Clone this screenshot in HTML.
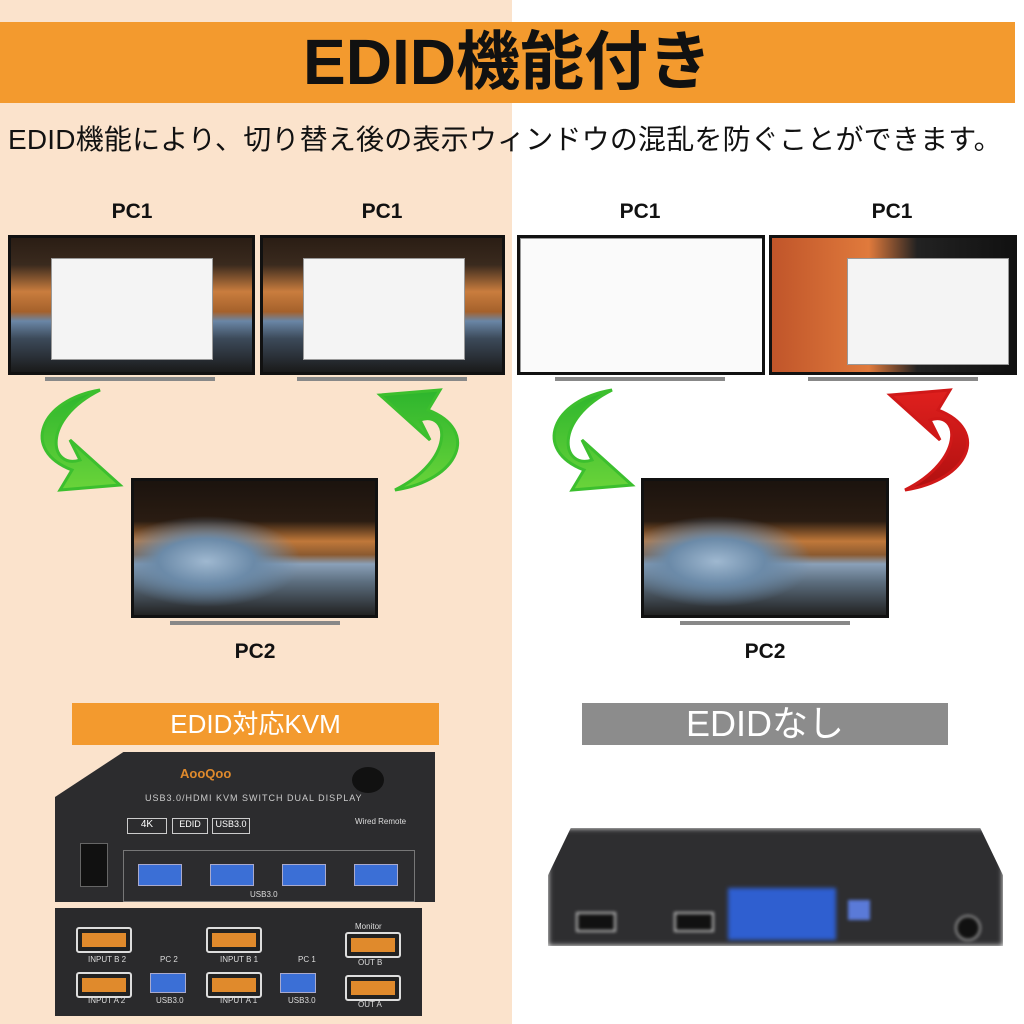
<!DOCTYPE html>
<html><head><meta charset="utf-8"><style>
body{margin:0;width:1024px;height:1024px;position:relative;overflow:hidden;font-family:"Liberation Sans","Noto Sans CJK JP",sans-serif;background:#fff}
.a{position:absolute}
.tv{position:absolute;background:#111;}
.scr{position:absolute;left:3px;top:3px;right:3px;bottom:3px;overflow:hidden}
.stand{position:absolute;height:4px;background:#888}
.lbl{position:absolute;font-weight:bold;font-size:21px;color:#111;width:120px;text-align:center}
.win{position:absolute;background:#f4f4f4;border:1px solid #999}
.land{background:linear-gradient(180deg,#2a1d14 0%,#3a2a1e 20%,#c97d3e 40%,#a5612b 55%,#6a86a6 62%,#3c4a5a 75%,#1a1a1a 100%)}
.cave{background:radial-gradient(ellipse at 30% 60%,#9fb8d0 0%,#6b8aa8 20%,transparent 40%),linear-gradient(180deg,#1b130e 0%,#2a1c12 30%,#c0783a 45%,#8b5a30 55%,#8aa0b8 62%,#5d6f80 75%,#222 100%)}
.port{position:absolute;background:#3b6fd6;border:1px solid #aac}
.hd{position:absolute;background:#222;border:2px solid #ddd;border-radius:3px}
.hd::after{content:"";position:absolute;left:4px;right:4px;top:4px;bottom:4px;background:#e08a2c}
.t{position:absolute;color:#ddd;font-size:8px}
</style></head><body>
<div class="a" style="left:0;top:0;width:512px;height:1024px;background:#fbe3cc"></div>
<div class="a" style="left:0;top:22px;width:1015px;height:81px;background:#f39a2e"></div>
<div class="a" style="left:0;top:22px;width:1015px;height:81px;text-align:center;font-size:64px;line-height:81px;color:#111;font-weight:bold">EDID機能付き</div>
<div class="a" style="left:8px;top:118px;font-size:28px;color:#111;white-space:nowrap;letter-spacing:0.2px">EDID機能により、切り替え後の表示ウィンドウの混乱を防ぐことができます。</div>

<div class="lbl" style="left:72px;top:200px">PC1</div>
<div class="lbl" style="left:322px;top:200px">PC1</div>
<div class="lbl" style="left:580px;top:200px">PC1</div>
<div class="lbl" style="left:832px;top:200px">PC1</div>
<div class="lbl" style="left:195px;top:640px">PC2</div>
<div class="lbl" style="left:705px;top:640px">PC2</div>

<div class="tv" style="left:8px;top:235px;width:247px;height:140px"><div class="scr land"><div class="win" style="left:40px;top:20px;width:160px;height:100px"></div></div></div>
<div class="stand" style="left:45px;top:377px;width:170px"></div>
<div class="tv" style="left:260px;top:235px;width:245px;height:140px"><div class="scr land"><div class="win" style="left:40px;top:20px;width:160px;height:100px"></div></div></div>
<div class="stand" style="left:297px;top:377px;width:170px"></div>
<div class="tv" style="left:517px;top:235px;width:248px;height:140px"><div class="scr" style="background:#fff"><div class="win" style="left:0;top:0;width:242px;height:134px;background:#fafafa"></div></div></div>
<div class="stand" style="left:555px;top:377px;width:170px"></div>
<div class="tv" style="left:769px;top:235px;width:248px;height:140px"><div class="scr" style="background:linear-gradient(90deg,#c0552a,#e07a3c 40%,#222 60%,#111)"><div class="win" style="left:75px;top:20px;width:160px;height:105px"></div></div></div>
<div class="stand" style="left:808px;top:377px;width:170px"></div>

<div class="tv" style="left:131px;top:478px;width:247px;height:140px"><div class="scr cave"></div></div>
<div class="stand" style="left:170px;top:621px;width:170px"></div>
<div class="tv" style="left:641px;top:478px;width:248px;height:140px"><div class="scr cave"></div></div>
<div class="stand" style="left:680px;top:621px;width:170px"></div>

<svg class="a" style="left:0;top:0" width="1024" height="700">
<defs>
<linearGradient id="g" x1="0" y1="0" x2="0" y2="1"><stop offset="0" stop-color="#2db52d"/><stop offset="1" stop-color="#6ad43a"/></linearGradient>
<linearGradient id="r" x1="0" y1="0" x2="0" y2="1"><stop offset="0" stop-color="#e0201e"/><stop offset="1" stop-color="#b01010"/></linearGradient>
</defs>
<path d="M100,390 C40,420 50,470 80,460 L70,440 L120,485 L60,490 L72,470 C20,450 40,400 100,390 Z" fill="url(#g)" stroke="#3cbf2e" stroke-width="3"/>
<path d="M395,490 C455,460 450,410 420,420 L430,440 L380,395 L440,390 L428,410 C480,430 460,480 395,490 Z" fill="url(#g)" stroke="#3cbf2e" stroke-width="3"/>
<path d="M612,390 C552,420 562,470 592,460 L582,440 L632,485 L572,490 L584,470 C532,450 552,400 612,390 Z" fill="url(#g)" stroke="#3cbf2e" stroke-width="3"/>
<path d="M905,490 C965,460 960,410 930,420 L940,440 L890,395 L950,390 L938,410 C990,430 970,480 905,490 Z" fill="url(#r)" stroke="#d01818" stroke-width="3"/>
</svg>

<div class="a" style="left:72px;top:703px;width:367px;height:42px;background:#f39a2e;color:#fff;font-size:26px;text-align:center;line-height:42px">EDID対応KVM</div>
<div class="a" style="left:582px;top:703px;width:366px;height:42px;background:#8c8c8c;color:#fff;font-size:36px;text-align:center;line-height:42px">EDIDなし</div>

<div class="a" style="left:55px;top:752px;width:380px;height:150px;background:#2c2c2e;clip-path:polygon(18% 0,100% 0,100% 100%,0 100%,0 30%)"></div>
<div class="a" style="left:352px;top:767px;width:32px;height:26px;border-radius:50%;background:#111"></div>
<div class="a" style="left:180px;top:766px;color:#e08a2c;font-size:13px;font-weight:bold">AooQoo</div>
<div class="a" style="left:145px;top:793px;color:#ccc;font-size:9px;letter-spacing:1px">USB3.0/HDMI KVM SWITCH DUAL DISPLAY</div>
<div class="a" style="left:127px;top:818px;width:38px;height:14px;border:1px solid #ccc;color:#fff;font-size:10px;text-align:center">4K</div>
<div class="a" style="left:172px;top:818px;width:34px;height:14px;border:1px solid #ccc;color:#fff;font-size:9px;text-align:center">EDID</div>
<div class="a" style="left:212px;top:818px;width:36px;height:14px;border:1px solid #ccc;color:#fff;font-size:9px;text-align:center">USB3.0</div>
<div class="t" style="left:355px;top:817px">Wired Remote</div>
<div class="a" style="left:80px;top:843px;width:26px;height:42px;background:#111;border:1px solid #666"></div>
<div class="a" style="left:123px;top:850px;width:290px;height:50px;border:1px solid #777"></div>
<div class="port" style="left:138px;top:864px;width:42px;height:20px"></div>
<div class="port" style="left:210px;top:864px;width:42px;height:20px"></div>
<div class="port" style="left:282px;top:864px;width:42px;height:20px"></div>
<div class="port" style="left:354px;top:864px;width:42px;height:20px"></div>
<div class="t" style="left:250px;top:890px">USB3.0</div>
<div class="a" style="left:55px;top:908px;width:367px;height:108px;background:#2a2a2c"></div>
<div class="hd" style="left:76px;top:927px;width:52px;height:22px"></div>
<div class="hd" style="left:76px;top:972px;width:52px;height:22px"></div>
<div class="hd" style="left:206px;top:927px;width:52px;height:22px"></div>
<div class="hd" style="left:206px;top:972px;width:52px;height:22px"></div>
<div class="hd" style="left:345px;top:932px;width:52px;height:22px"></div>
<div class="hd" style="left:345px;top:975px;width:52px;height:22px"></div>
<div class="port" style="left:150px;top:973px;width:34px;height:18px"></div>
<div class="port" style="left:280px;top:973px;width:34px;height:18px"></div>
<div class="t" style="left:88px;top:955px">INPUT B 2</div><div class="t" style="left:160px;top:955px">PC 2</div>
<div class="t" style="left:88px;top:996px">INPUT A 2</div><div class="t" style="left:156px;top:996px">USB3.0</div>
<div class="t" style="left:220px;top:955px">INPUT B 1</div><div class="t" style="left:298px;top:955px">PC 1</div>
<div class="t" style="left:220px;top:996px">INPUT A 1</div><div class="t" style="left:288px;top:996px">USB3.0</div>
<div class="t" style="left:355px;top:922px">Monitor</div><div class="t" style="left:358px;top:958px">OUT B</div><div class="t" style="left:358px;top:1000px">OUT A</div>

<div class="a" style="left:548px;top:828px;width:455px;height:118px;background:#2e2e30;filter:blur(3px);clip-path:polygon(5% 0,95% 0,100% 40%,100% 100%,0 100%,0 40%)"></div>
<div class="a" style="left:728px;top:888px;width:108px;height:52px;background:#2f5fd0;filter:blur(2px)"></div>
<div class="a" style="left:576px;top:912px;width:36px;height:16px;background:#111;border:2px solid #bbb;filter:blur(1.5px)"></div>
<div class="a" style="left:674px;top:912px;width:36px;height:16px;background:#111;border:2px solid #bbb;filter:blur(1.5px)"></div>
<div class="a" style="left:848px;top:900px;width:22px;height:20px;background:#5a7ad8;filter:blur(1.5px)"></div>
<div class="a" style="left:955px;top:915px;width:22px;height:22px;border-radius:50%;background:#111;border:2px solid #999;filter:blur(1.5px)"></div>
</body></html>
